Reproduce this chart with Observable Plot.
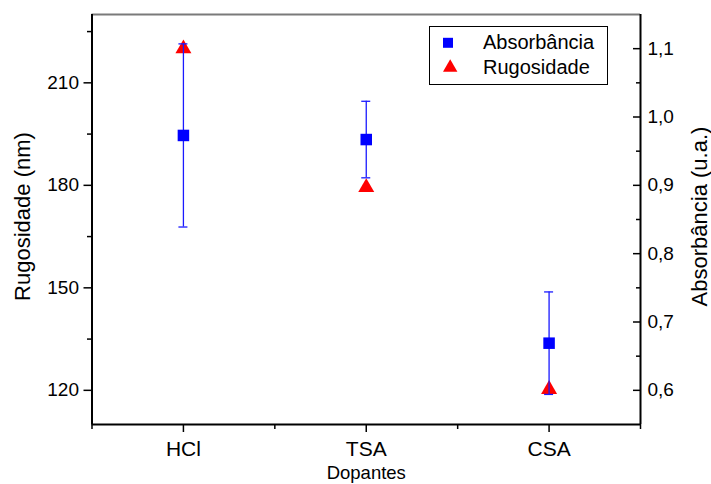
<!DOCTYPE html>
<html>
<head>
<meta charset="utf-8">
<script src="https://cdn.jsdelivr.net/npm/d3@7"></script>
<script src="https://cdn.jsdelivr.net/npm/@observablehq/plot@0.6"></script>
<style>
  body { margin: 0; background: #fff; }
  #chart { position: relative; width: 711px; height: 484px; }
  #chart svg { font-family: "Liberation Sans", Arial, sans-serif; }
</style>
</head>
<body>
<div id="chart"></div>
<script>
// ---- data ----
const categories = ["HCl", "TSA", "CSA"];
const absorbancia = [0.973, 0.967, 0.669];
const absorbanciaErro = [0.134, 0.056, 0.075];
const rugosidade = [220, 179.4, 120.3];

const rugosidadeDomain = [110, 230];
const absorbanciaDomain = [0.55, 1.15];
const xDomain = [0.5, 3.5];

const rugosidadeTicks = [120, 150, 180, 210];
const rugosidadeMinorTicks = [135, 165, 195, 225];
const absorbanciaTicks = [0.6, 0.7, 0.8, 0.9, 1.0, 1.1];
const absorbanciaMinorTicks = [0.65, 0.75, 0.85, 0.95, 1.05];
const xTicks = [1, 2, 3];
const xMinorTicks = [0.5, 1.5, 2.5, 3.5];

const legendLabels = ["Absorbância", "Rugosidade"];
const xLabel = "Dopantes";
const yLabelLeft = "Rugosidade (nm)";
const yLabelRight = "Absorbância (u.a.)";

// ---- helpers ----
const k = (rugosidadeDomain[1] - rugosidadeDomain[0]) / (absorbanciaDomain[1] - absorbanciaDomain[0]);
const toLeft = a => rugosidadeDomain[0] + (a - absorbanciaDomain[0]) * k;
const fromLeft = r => absorbanciaDomain[0] + (r - rugosidadeDomain[0]) / k;
const fmtComma = v => d3.format(".1f")(v).replace(".", ",");
const blank = () => "";

const rows = categories.map((c, i) => ({
  i: i + 1, cat: c,
  abs: absorbancia[i], err: absorbanciaErro[i], rug: rugosidade[i]
}));

const font = "'Liberation Sans', Arial, sans-serif";

const plot = Plot.plot({
  width: 711,
  height: 484,
  marginLeft: 91.5,
  marginRight: 71,
  marginTop: 14,
  marginBottom: 60,
  style: { fontFamily: font, color: "black", background: "white" },
  x: { type: "linear", domain: xDomain },
  y: { type: "linear", domain: rugosidadeDomain },
  marks: [
    // frame top
    Plot.ruleY([rugosidadeDomain[1]], { stroke: "#7a7a7a", strokeWidth: 2 }),
    // left axis
    Plot.axisY(rugosidadeTicks, { anchor: "left", tickSize: 8, tickPadding: 5, fontSize: 19, strokeWidth: 1.5, label: null }),
    Plot.axisY(rugosidadeMinorTicks, { anchor: "left", tickSize: 4.5, strokeWidth: 1.5, tickFormat: blank, label: null }),
    // right axis (absorbância mapped onto the left scale)
    Plot.axisY(absorbanciaTicks.map(toLeft), { anchor: "right", tickSize: 8, dx: -8, strokeWidth: 1.5, tickFormat: blank, label: null }),
    Plot.axisY(absorbanciaMinorTicks.map(toLeft), { anchor: "right", tickSize: 5, dx: -5, strokeWidth: 1.5, tickFormat: blank, label: null }),
    Plot.axisY(absorbanciaTicks.map(toLeft), { anchor: "right", tickSize: 0, tickPadding: 7, fontSize: 19, tickFormat: d => fmtComma(fromLeft(d)), label: null }),
    // bottom axis
    Plot.axisX(xTicks, { anchor: "bottom", tickSize: 8, tickPadding: 9, fontSize: 21, strokeWidth: 1.5, tickFormat: d => categories[d - 1], label: null }),
    Plot.axisX(xMinorTicks, { anchor: "bottom", tickSize: 5, strokeWidth: 1.5, tickFormat: blank, label: null }),
    Plot.ruleX([xDomain[0]], { stroke: "black", strokeWidth: 2 }),
    Plot.ruleX([xDomain[1]], { stroke: "black", strokeWidth: 2 }),
    Plot.ruleY([rugosidadeDomain[0]], { stroke: "black", strokeWidth: 2 }),
    // titles
    Plot.text([yLabelLeft], { frameAnchor: "left", rotate: -90, dx: -69, dy: -3, fontSize: 22, textAnchor: "middle", lineAnchor: "middle" }),
    Plot.text([yLabelRight], { frameAnchor: "right", rotate: -90, dx: 59, dy: -3, fontSize: 22, textAnchor: "middle", lineAnchor: "middle" }),
    Plot.text([xLabel], { frameAnchor: "bottom", dy: 41, fontSize: 18.5, textAnchor: "middle", lineAnchor: "top" }),
    // data
    Plot.dot(rows, { x: "i", y: "rug", symbol: d3.symbolTriangle, r: 5.94, fill: "#ff0000" }),
    Plot.ruleX(rows, { x: "i", y1: d => toLeft(d.abs - d.err), y2: d => toLeft(d.abs + d.err), stroke: "#1a1aff", strokeWidth: 1.3 }),
    Plot.ruleY(rows, { x1: "i", x2: "i", y: d => toLeft(d.abs + d.err), insetLeft: -4.5, insetRight: -4.5, stroke: "#1a1aff", strokeWidth: 1.3 }),
    Plot.ruleY(rows, { x1: "i", x2: "i", y: d => toLeft(d.abs - d.err), insetLeft: -4.5, insetRight: -4.5, stroke: "#1a1aff", strokeWidth: 1.3 }),
    Plot.dot(rows, { x: "i", y: d => toLeft(d.abs), symbol: d3.symbolSquare, r: 6.5, fill: "#0000ff" })
  ]
});

document.getElementById("chart").appendChild(plot);

// ---- legend (drawn inside the SVG) ----
const svg = d3.select(plot);
const lg = svg.append("g").attr("class", "legend");
lg.append("rect").attr("x", 429.5).attr("y", 26.5).attr("width", 178).attr("height", 58)
  .attr("fill", "white").attr("stroke", "black").attr("stroke-width", 1);
lg.append("path").attr("transform", "translate(448,42.8)")
  .attr("d", d3.symbol(d3.symbolSquare, 100)()).attr("fill", "#0000ff");
lg.append("path").attr("transform", "translate(450.2,67.5)")
  .attr("d", d3.symbol(d3.symbolTriangle, 90)()).attr("fill", "#ff0000");
legendLabels.forEach((t, j) => {
  lg.append("text").attr("x", 483).attr("y", 48.5 + j * 25.5)
    .attr("text-anchor", "start")
    .attr("font-size", 20).attr("font-family", font).attr("fill", "black").text(t);
});
</script>
</body>
</html>
